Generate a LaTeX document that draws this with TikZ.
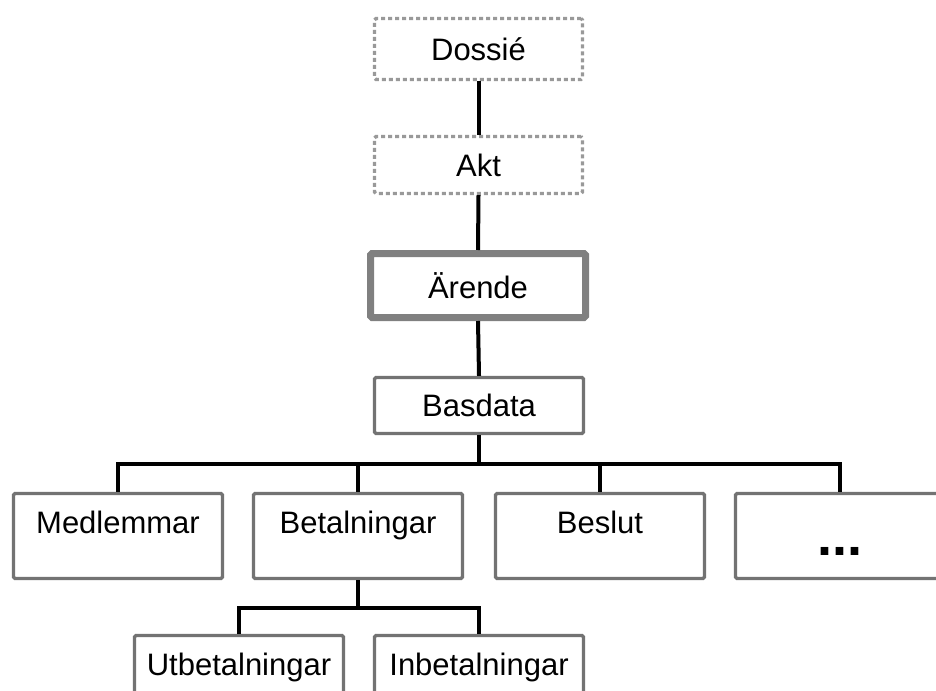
\documentclass[tikz,border=0pt]{standalone}
\usepackage{fontspec}
\setmainfont{Liberation Sans}
\begin{document}
\begin{tikzpicture}[x=1pt,y=-1pt,
  every node/.style={font=\fontsize{31}{37}\selectfont},
  box/.style={draw=gray!90!black, line width=3.3pt, fill=white, rounded corners=1.5pt,
    inner sep=0pt, minimum width=209pt},
  ghostbox/.style={box, dash pattern=on 4pt off 3pt, draw=gray!80, minimum width=208pt},
  mainbox/.style={box, draw=gray, line width=7pt, minimum width=215pt},
  childbox/.style={box, text height=39.5pt, text depth=45.5pt},
  conn/.style={draw=black, line width=4pt}]
\useasboundingbox (0,0) rectangle (936,690);
\clip (0,0) rectangle (936,690);

% upper chain
\node[ghostbox, minimum height=61pt] (dossie) at (478.5,49) {Dossié};
\node[ghostbox, minimum height=57pt] (akt) at (478.5,165) {Akt};
\node[mainbox, minimum height=64pt] (arende) at (478,285.5) {Ärende};
\node[box, minimum height=56pt] (basdata) at (479,405.5) {Basdata};

% second level
\node[childbox] (medlemmar) at (118,536) {Medlemmar};
\node[childbox] (betalningar) at (358,536) {Betalningar};
\node[childbox] (beslut) at (600,536) {Beslut};
\node[box, text height=61.5pt, text depth=23.5pt,
  font=\fontsize{54}{60}\selectfont\bfseries] (more) at (840,536) {...};

% third level
\node[childbox] (utbet) at (239,678) {Utbetalningar};
\node[childbox] (inbet) at (479,678) {Inbetalningar};

% connectors
\coordinate (bus) at (480,464);
\coordinate (sub) at (358,608);
\draw[conn] (dossie.south) -- (akt.north);
\draw[conn] (akt.south) -- (arende.north);
\draw[conn] (arende.south) -- (basdata.north);
\draw[conn] (basdata.south) -- (basdata.south |- bus);
\draw[conn] (medlemmar.north) |- (bus) -| (more.north);
\draw[conn] (betalningar.north) -- (betalningar.north |- bus);
\draw[conn] (beslut.north) -- (beslut.north |- bus);
\draw[conn] (betalningar.south) -- (sub);
\draw[conn] (utbet.north) |- (sub) -| (inbet.north);
\end{tikzpicture}
\end{document}
